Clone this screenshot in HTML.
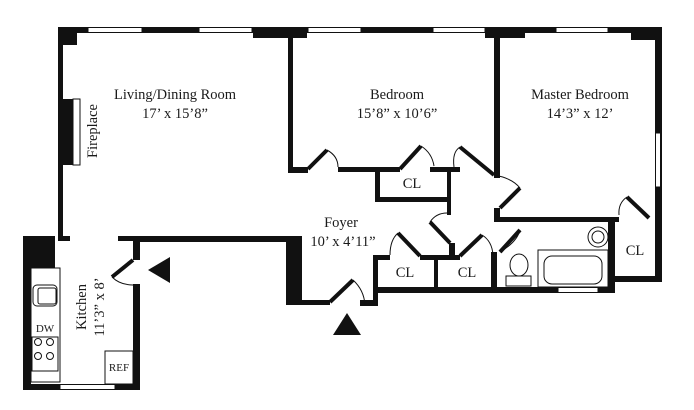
<!DOCTYPE html>
<html><head><meta charset="utf-8"><style>
html,body{margin:0;padding:0;background:#fff;}
svg{display:block;}
text{font-family:"Liberation Serif",serif;fill:#1a1a1a;}
</style></head><body>
<svg width="694" height="410" viewBox="0 0 694 410" xmlns="http://www.w3.org/2000/svg">
<g fill="#111">
<!-- top exterior wall -->
<rect x="58" y="27" width="604" height="6"/>
<rect x="58" y="27" width="19" height="18"/>
<rect x="253" y="27" width="54" height="11"/>
<rect x="485" y="27" width="40" height="11"/>
<rect x="631" y="27" width="31" height="13"/>
<!-- living left wall -->
<rect x="58" y="27" width="5" height="211"/>
<rect x="58" y="236" width="12" height="5"/>
<!-- fireplace -->
<rect x="63" y="99" width="10" height="66"/>
<!-- bedroom left wall -->
<rect x="288" y="33" width="5" height="140"/>
<!-- bedroom bottom wall -->
<rect x="288" y="167" width="20" height="6"/>
<rect x="338" y="167" width="62" height="5"/>
<rect x="375" y="167" width="5" height="35"/>
<rect x="375" y="197" width="73" height="5"/>
<rect x="430" y="167" width="30" height="5"/>
<rect x="447" y="167" width="4" height="48"/>
<!-- master left wall -->
<rect x="494" y="33" width="6" height="145"/>
<rect x="494" y="208" width="6" height="14"/>
<rect x="494" y="217" width="125" height="5"/>
<!-- right exterior -->
<rect x="655" y="27" width="7" height="255"/>
<rect x="610" y="276" width="52" height="6"/>
<rect x="608" y="217" width="7" height="76"/>
<!-- bottom bath/closets wall -->
<rect x="373" y="287" width="242" height="6"/>
<rect x="373" y="255" width="5" height="51"/>
<rect x="360" y="300" width="18" height="6"/>
<rect x="373" y="255" width="17" height="5"/>
<rect x="420" y="255" width="40" height="5"/>
<rect x="434" y="255" width="4" height="35"/>
<rect x="449" y="243" width="6" height="17"/>
<rect x="491" y="252" width="6" height="41"/>
<!-- foyer left thick wall -->
<rect x="286" y="236" width="16" height="69"/>
<rect x="286" y="300" width="44" height="5"/>
<!-- living/kitchen wall -->
<rect x="133" y="236" width="157" height="6"/>
<rect x="118" y="236" width="22" height="5"/>
<rect x="133" y="236" width="7" height="24"/>
<!-- kitchen -->
<rect x="23" y="236" width="32" height="32"/>
<rect x="23" y="236" width="8" height="154"/>
<rect x="23" y="384" width="117" height="6"/>
<rect x="133" y="284" width="7" height="106"/>
<!-- arrows -->
<polygon points="148,270 170,257 170,283"/>
<polygon points="347,313 333,335 361,335"/>
</g>
<!-- windows -->
<g fill="#fff" stroke="#111" stroke-width="1">
<rect x="88" y="27.5" width="54" height="5"/>
<rect x="199" y="27.5" width="53" height="5"/>
<rect x="308" y="27.5" width="53" height="5"/>
<rect x="433" y="27.5" width="52" height="5"/>
<rect x="556" y="27.5" width="52" height="5"/>
<rect x="655.5" y="133" width="5" height="54"/>
<rect x="60" y="384.5" width="55" height="5"/>
<rect x="558" y="287.5" width="40" height="5"/>
<rect x="73" y="99" width="7" height="66"/>
</g>
<!-- door leaves -->
<g stroke="#111" stroke-width="4" fill="none">
<line x1="308" y1="169" x2="327" y2="150"/>
<line x1="400" y1="169" x2="421" y2="146"/>
<line x1="460" y1="147" x2="494" y2="175"/>
<line x1="500" y1="208" x2="520" y2="188"/>
<line x1="627" y1="197" x2="649" y2="218"/>
<line x1="430" y1="222" x2="450" y2="243"/>
<line x1="520" y1="230" x2="500" y2="252"/>
<line x1="398" y1="233" x2="420" y2="256"/>
<line x1="460" y1="256" x2="482" y2="235"/>
<line x1="330" y1="302" x2="353" y2="280"/>
<line x1="133" y1="260" x2="112" y2="277"/>
</g>
<g stroke="#111" stroke-width="1" fill="none">
<path d="M327,150 Q338,156 338,167"/>
<path d="M421,146 Q432,153 434,166"/>
<path d="M460,147 Q452,152 454,167"/>
<path d="M494,175 Q512,178 520,188"/>
<path d="M627,197 Q618,203 619,215"/>
<path d="M430,222 Q436,213 447,213"/>
<path d="M520,230 Q517,242 500,252"/>
<path d="M398,233 Q390,240 390,255"/>
<path d="M482,235 Q492,241 493,255"/>
<path d="M353,280 Q364,290 365,305"/>
<path d="M112,277 Q120,285 133,285"/>
<!-- kitchen fixtures -->
<rect x="31" y="268" width="29" height="114" fill="#fff"/>
<rect x="33" y="285" width="24" height="21" rx="4"/>
<rect x="38" y="288" width="18" height="16" rx="2"/>
<circle cx="38" cy="342" r="3.5"/><circle cx="50" cy="342" r="3.5"/>
<circle cx="38" cy="356" r="3.5"/><circle cx="50" cy="356" r="3.5"/>
<rect x="32" y="337" width="26" height="34"/>
<rect x="105" y="351" width="28" height="33" fill="#fff"/>
<!-- bath -->
<rect x="538" y="250" width="70" height="37"/>
<rect x="544" y="256" width="58" height="28" rx="8"/>
<circle cx="598" cy="237" r="10"/><circle cx="598" cy="237" r="6"/>
<ellipse cx="519" cy="265" rx="9" ry="11"/>
<rect x="506" y="276" width="25" height="10"/>
</g>
<!-- labels -->
<g font-size="14.5" text-anchor="middle">
<text x="175" y="99">Living/Dining Room</text>
<text x="175" y="118">17’ x 15’8”</text>
<text x="397" y="99">Bedroom</text>
<text x="397" y="118">15’8” x 10’6”</text>
<text x="580" y="99">Master Bedroom</text>
<text x="580" y="118">14’3” x 12’</text>
<text x="341" y="227">Foyer</text>
<text x="343" y="246">10’ x 4’11”</text>
<text x="412" y="188">CL</text>
<text x="635" y="255">CL</text>
<text x="405" y="277">CL</text>
<text x="467" y="277">CL</text>
<text transform="translate(97,131) rotate(-90)">Fireplace</text>
<text transform="translate(86,307) rotate(-90)">Kitchen</text>
<text transform="translate(104,307) rotate(-90)">11’3” x 8’</text>
</g>
<g font-size="11" text-anchor="middle">
<text x="45" y="332">DW</text>
<text x="119" y="371">REF</text>
</g>
</svg>
</body></html>
